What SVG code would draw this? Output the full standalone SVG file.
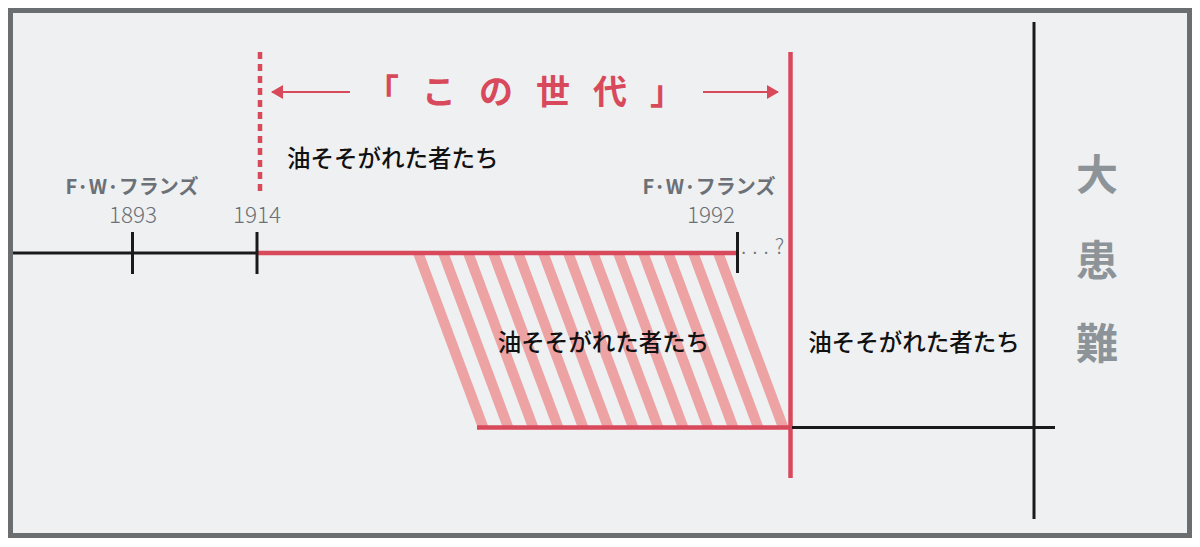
<svg xmlns="http://www.w3.org/2000/svg" width="1200" height="547" viewBox="0 0 1200 547">
  <style>
    .jp { font-family: "Noto Sans CJK JP", "Noto Sans", sans-serif; }
    .label { font-size: 23.5px; font-weight: 500; fill: #111; }
    .name { font-size: 20px; font-weight: 700; fill: #6b7176; }
    .year { font-size: 22.5px; font-weight: 300; fill: #6b7176; }
    .title { font-size: 34px; font-weight: 700; fill: #d84a5b; letter-spacing: 23px; }
    .big { font-size: 42px; font-weight: 700; fill: #8d9499; }
    .blk { stroke: #1a1a1a; stroke-width: 3; fill: none; }
    .red { stroke: #d84a5b; stroke-width: 4.5; fill: none; }
    .thin { stroke: #d84a5b; stroke-width: 1.8; fill: none; }
    .stripe { fill: #eda3a4; }
  </style>
  <defs>
    <marker id="ah" viewBox="0 0 12 14" refX="11" refY="7" markerWidth="12" markerHeight="14" markerUnits="userSpaceOnUse" orient="auto">
      <path d="M0,0 L12,7 L0,14 Z" fill="#d84a5b"/>
    </marker>
  </defs>

  <rect id="frame" x="10.5" y="10.5" width="1179" height="525" fill="#eff0f2" stroke="#6b6e70" stroke-width="5"/>

  <g id="hatch">
    <polygon class="stripe" points="413.5,255 424.5,255 488.5,427 477.5,427"/>
    <polygon class="stripe" points="438.5,255 449.5,255 513.5,427 502.5,427"/>
    <polygon class="stripe" points="463.5,255 474.5,255 538.5,427 527.5,427"/>
    <polygon class="stripe" points="488.5,255 499.5,255 563.5,427 552.5,427"/>
    <polygon class="stripe" points="513.5,255 524.5,255 588.5,427 577.5,427"/>
    <polygon class="stripe" points="538.5,255 549.5,255 613.5,427 602.5,427"/>
    <polygon class="stripe" points="563.5,255 574.5,255 638.5,427 627.5,427"/>
    <polygon class="stripe" points="588.5,255 599.5,255 663.5,427 652.5,427"/>
    <polygon class="stripe" points="613.5,255 624.5,255 688.5,427 677.5,427"/>
    <polygon class="stripe" points="638.5,255 649.5,255 713.5,427 702.5,427"/>
    <polygon class="stripe" points="663.5,255 674.5,255 738.5,427 727.5,427"/>
    <polygon class="stripe" points="688.5,255 699.5,255 763.5,427 752.5,427"/>
    <polygon class="stripe" points="713.5,255 724.5,255 788.5,427 777.5,427"/>
  </g>

  <g id="connectors">
    <line class="blk" x1="13" y1="253" x2="257" y2="253"/>
    <line class="red" x1="257" y1="253" x2="737" y2="253"/>
    <line class="blk" x1="132.5" y1="232" x2="132.5" y2="274"/>
    <line class="blk" x1="257" y1="232" x2="257" y2="274"/>
    <line class="blk" x1="737.5" y1="232" x2="737.5" y2="273"/>
    <line class="red" x1="260" y1="52" x2="260" y2="192" stroke-dasharray="7,5"/>
    <line class="red" x1="790.5" y1="52" x2="790.5" y2="478"/>
    <line class="red" x1="477" y1="427.5" x2="790" y2="427.5"/>
    <line class="blk" x1="792" y1="427.5" x2="1055" y2="427.5"/>
    <line class="blk" x1="1034" y1="22" x2="1034" y2="519"/>
    <line class="thin" x1="350" y1="92" x2="272" y2="92" marker-end="url(#ah)"/>
    <line class="thin" x1="703" y1="92" x2="778" y2="92" marker-end="url(#ah)"/>
  </g>

  <g id="title">
    <text class="jp title" x="365" y="104">「この世代」</text>
  </g>

  <g id="label-top">
    <text class="jp label" x="287" y="167">油そそがれた者たち</text>
  </g>

  <g id="franz-1893">
    <text class="jp name" x="132" y="194" text-anchor="middle">F·W·フランズ</text>
    <text class="jp year" x="133" y="223" text-anchor="middle">1893</text>
  </g>

  <g id="year-1914">
    <text class="jp year" x="257" y="223" text-anchor="middle">1914</text>
  </g>

  <g id="franz-1992">
    <text class="jp name" x="709" y="194" text-anchor="middle">F·W·フランズ</text>
    <text class="jp year" x="711" y="223" text-anchor="middle">1992</text>
    <text class="jp" x="741" y="254" font-size="21" font-weight="300" fill="#6b7176" letter-spacing="6">...?</text>
  </g>

  <g id="label-mid">
    <text class="jp label" x="603.5" y="351" text-anchor="middle">油そそがれた者たち</text>
  </g>

  <g id="label-right">
    <text class="jp label" x="914" y="351" text-anchor="middle">油そそがれた者たち</text>
  </g>

  <g id="daikannan">
    <text class="jp big" x="1097" y="190" text-anchor="middle">大</text>
    <text class="jp big" x="1097" y="276" text-anchor="middle">患</text>
    <text class="jp big" x="1097" y="359" text-anchor="middle">難</text>
  </g>
</svg>
